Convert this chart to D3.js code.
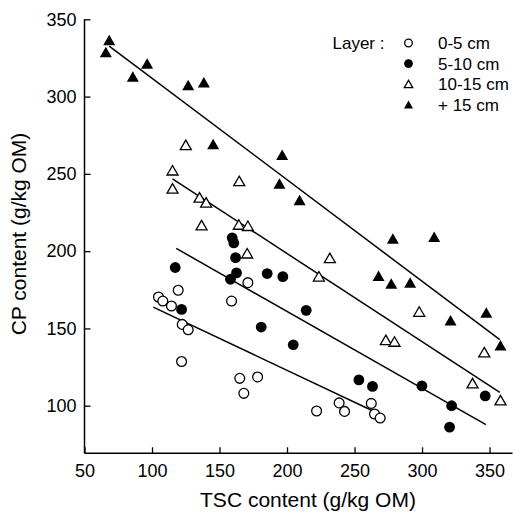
<!DOCTYPE html>
<html><head><meta charset="utf-8">
<script src="https://cdn.jsdelivr.net/npm/d3@7"></script>
<style>html,body{margin:0;padding:0;background:#fff;}svg{display:block;font-family:"Liberation Sans",Arial,Helvetica,sans-serif;}</style>
</head><body>
<svg id="chart" width="513" height="521"></svg>
<script>
// ---- data (TSC, CP) in g/kg OM ----
const layers = ["0-5 cm", "5-10 cm", "10-15 cm", "+ 15 cm"];
const layer0_5 = [[104.8,170.3],[108,167.7],[114.4,164.5],[119.4,174.7],[122.4,152.6],[126.8,149.1],[121.9,128.6],[158.9,167.7],[171,179.6],[165,117.7],[168,108],[178.2,118.6],[221.9,96.6],[238.6,101.8],[242.6,96.3],[262.4,101.5],[264.8,94.6],[269,92]];
const layer5_10 = [[117.2,189.4],[121.9,162.3],[159.4,208.6],[160.6,205.3],[161.9,195.8],[158.1,181.8],[162.6,185.9],[180.9,150.9],[185.3,185.5],[196.9,183.5],[214.2,161.7],[204.6,139.4],[253.2,116.7],[263.3,112.5],[299.9,112.8],[321.9,100],[320.4,86.1],[346.8,106.3]];
const layer10_15 = [[125,267.7],[115.2,251.3],[115.2,239.6],[135.2,233.8],[140.1,230.5],[136.7,215.8],[164.6,244.4],[164.3,216.2],[171,215.4],[170.5,197.6],[231.7,194.6],[223.6,182.7],[297.9,159.9],[273.2,141.6],[279.6,140.5],[346.1,133.6],[337.4,113.6],[358.1,102.6]];
const layer15 = [[65.8,327.7],[68.3,335.5],[85.8,311.9],[96.4,320.3],[126.8,306.3],[138.4,308.2],[145.3,268.2],[196.4,261.2],[194.4,242.6],[209.3,232],[278.4,207.1],[309,208.2],[267.8,182.9],[277.2,177.9],[291.2,178.6],[321.1,154.1],[347.6,159.1],[358.1,137.9]];
// regression line end points
const fit0_5 = [[100.9,163.8],[270,94]];
const fit5_10 = [[117.9,201.8],[347.3,87.7]];
const fit10_15 = [[115.2,246.8],[357.6,108.6]];
const fit15 = [[68.3,332.7],[357.6,142.7]];
const xTicks = [50,100,150,200,250,300,350];
const yTicks = [100,150,200,250,300,350];
const xTitle = "TSC content (g/kg OM)";
const yTitle = "CP content (g/kg OM)";
const legendTitle = "Layer :";

// ---- drawing ----
const svg = d3.select("#chart");
const x = d3.scaleLinear().domain([50, 367]).range([84.5, 512.5]);
const y = d3.scaleLinear().domain([69.2, 350]).range([453.3, 19.3]);

const series = [
  {data: layer0_5, fit: fit0_5, shape: "circle", filled: false},
  {data: layer5_10, fit: fit5_10, shape: "circle", filled: true},
  {data: layer10_15, fit: fit10_15, shape: "triangle", filled: false},
  {data: layer15, fit: fit15, shape: "triangle", filled: true}
];

function triPath(w, h) {
  // centroid-centred triangle
  return `M0,${-2*h/3}L${w/2},${h/3}L${-w/2},${h/3}Z`;
}

// axes
const xAxis = d3.axisBottom(x).tickValues(xTicks).tickSize(-6).tickPadding(14);
const gx = svg.append("g").attr("transform", `translate(0,${y(69.2)})`).call(xAxis);
const yAxis = d3.axisLeft(y).tickValues(yTicks).tickSize(-6).tickPadding(14);
const gy = svg.append("g").attr("transform", `translate(${x(50)},0)`).call(yAxis);
[gx, gy].forEach(g => {
  g.select(".domain").attr("stroke", "#000").attr("stroke-width", 1.5);
  g.selectAll(".tick line").attr("stroke", "#000").attr("stroke-width", 1.3);
  g.selectAll(".tick text").attr("fill", "#000").attr("font-size", 18).attr("font-family", "Liberation Sans, Arial, sans-serif");
});
gx.select(".domain").attr("d", `M${x(50)},0H${x(367)}`);
gy.select(".domain").attr("d", `M0,${y(69.2)}V${y(350)}`);
gx.selectAll(".tick text").attr("dy", "0.71em").attr("y", 11);
gy.selectAll(".tick text").attr("x", -8);

// fit lines
const line = d3.line().x(d => x(d[0])).y(d => y(d[1]));
series.forEach(s => {
  svg.append("path").attr("d", line(s.fit)).attr("fill", "none").attr("stroke", "#000").attr("stroke-width", 1.5);
});

// points
series.forEach(s => {
  const g = svg.append("g");
  if (s.shape === "circle") {
    g.selectAll("circle").data(s.data).join("circle")
      .attr("cx", d => x(d[0])).attr("cy", d => y(d[1]))
      .attr("r", s.filled ? 5.4 : 4.9)
      .attr("fill", s.filled ? "#000" : "#fff")
      .attr("stroke", "#000").attr("stroke-width", s.filled ? 0 : 1.3);
  } else {
    g.selectAll("path").data(s.data).join("path")
      .attr("transform", d => `translate(${x(d[0])},${y(d[1])})`)
      .attr("d", s.filled ? triPath(12, 10.5) : triPath(11, 9.5))
      .attr("fill", s.filled ? "#000" : "#fff")
      .attr("stroke", "#000").attr("stroke-width", s.filled ? 0 : 1.3)
      .attr("stroke-linejoin", "miter");
  }
});

// titles
svg.append("text").attr("x", 308).attr("y", 507).attr("text-anchor", "middle")
  .attr("font-size", 21).attr("fill", "#000").text(xTitle);
svg.append("text").attr("transform", "translate(26,234) rotate(-90)").attr("text-anchor", "middle")
  .attr("font-size", 21).attr("fill", "#000").text(yTitle);

// legend
const leg = svg.append("g");
leg.append("text").attr("x", 332.5).attr("y", 48.5).attr("font-size", 17).attr("fill", "#000").text(legendTitle);
layers.forEach((name, i) => {
  const cy = 43 + i * 20.6;
  const s = series[i];
  if (s.shape === "circle") {
    leg.append("circle").attr("cx", 408.5).attr("cy", cy).attr("r", s.filled ? 4.4 : 3.8)
      .attr("fill", s.filled ? "#000" : "#fff").attr("stroke", "#000").attr("stroke-width", s.filled ? 0 : 1.3);
  } else {
    leg.append("path").attr("transform", `translate(408.5,${cy + 1})`).attr("d", s.filled ? triPath(9, 8) : triPath(8.5, 7.5))
      .attr("fill", s.filled ? "#000" : "#fff").attr("stroke", "#000").attr("stroke-width", s.filled ? 0 : 1.3);
  }
  leg.append("text").attr("x", 438).attr("y", cy + 6).attr("font-size", 17).attr("fill", "#000").text(name);
});
</script>
</body></html>
